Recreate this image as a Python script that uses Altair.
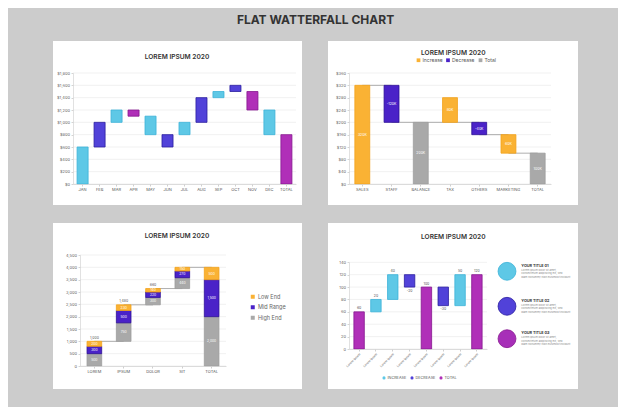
import altair as alt
import pandas as pd

FONT = "Inter"
BG = "#cccccc"
CYAN, CYAN_D = "#5ec8e6", "#3cb3d8"
INDIGO, INDIGO_D = "#5142d9", "#2b1ea0"
MAGENTA, MAGENTA_D = "#b02fb8", "#86168f"
ORANGE, ORANGE_D = "#fab234", "#f3a21b"
GRAY, GRAY_D = "#a9a9a9", "#9d9d9d"
PURPLE, PURPLE_D = "#4a22c8", "#2c0f96"

# ---------------- data ----------------
p1_cats = ["JAN", "FEB", "MAR", "APR", "MAY", "JUN", "JUL", "AUG", "SEP", "OCT", "NOV", "DEC", "TOTAL"]
p1_low = [0, 600, 1000, 1100, 800, 600, 800, 1000, 1400, 1500, 1200, 800, 0]
p1_high = [600, 1000, 1200, 1200, 1100, 800, 1000, 1400, 1500, 1600, 1500, 1200, 800]
p1_kind = ["Increase", "Decrease", "Increase", "Total", "Increase", "Decrease", "Increase",
           "Decrease", "Increase", "Decrease", "Total", "Increase", "Total"]
p1_ticks = [0, 200, 400, 600, 800, 1000, 1200, 1400, 1600, 1800]

p2_cats = ["SALES", "STAFF", "BALANCE", "TAX", "OTHERS", "MARKETING", "TOTAL"]
p2_low = [0, 200, 0, 200, 160, 100, 0]
p2_high = [320, 320, 200, 280, 200, 160, 100]
p2_kind = ["Increase", "Decrease", "Total", "Increase", "Decrease", "Increase", "Total"]
p2_labels = ["320K", "-120K", "200K", "80K", "-40K", "60K", "100K"]
p2_ticks = [0, 40, 80, 120, 160, 200, 240, 280, 320, 360]
p2_from = ["SALES", "STAFF", "BALANCE", "TAX", "OTHERS", "MARKETING"]
p2_to = ["STAFF", "BALANCE", "TAX", "OTHERS", "MARKETING", "TOTAL"]
p2_level = [320, 200, 200, 200, 160, 100]

p3_cats = ["LOREM", "IPSUM", "DOLOR", "SIT", "TOTAL"]
p3_base = [0, 1000, 2480, 3140, 0]
p3_high_end = [500, 750, 300, 440, 2000]
p3_mid_range = [300, 500, 220, 270, 1500]
p3_low_end = [200, 230, 140, 150, 500]
p3_top_labels = ["1,000", "1,480", "660", "", ""]
p3_ticks = [0, 500, 1000, 1500, 2000, 2500, 3000, 3500, 4000, 4500]
p3_from = ["LOREM", "IPSUM", "DOLOR", "SIT"]
p3_to = ["IPSUM", "DOLOR", "SIT", "TOTAL"]
p3_level = [1000, 2480, 3140, 4000]

p4_cats = ["c1", "c2", "c3", "c4", "c5", "c6", "c7", "c8"]
p4_low = [0, 60, 80, 100, 0, 70, 70, 0]
p4_high = [60, 80, 120, 120, 100, 100, 120, 120]
p4_kind = ["Total", "Increase", "Increase", "Decrease", "Total", "Decrease", "Increase", "Total"]
p4_labels = ["60", "20", "40", "-20", "100", "-30", "50", "120"]
p4_ticks = [0, 20, 40, 60, 80, 100, 120, 140]
p4_items = ["YOUR TITLE 01", "YOUR TITLE 02", "YOUR TITLE 03"]
p4_body = "Lorem ipsum dolor sit amet,\nconsectetuer adipiscing elit, sed\ndiam nonummy nibh euismod tincidunt"

one = pd.DataFrame({"k": [0]})


def card(W, H, L, T, R, B):
    return alt.Chart(one).mark_rect(color="white").encode(
        x=alt.value(-L), x2=alt.value(W + R), y=alt.value(-T), y2=alt.value(H + B))


def ptitle(x, y):
    return alt.Chart(one).mark_text(text="LOREM IPSUM 2020", font=FONT, fontSize=6.6,
                                    fontWeight=600, color="#333333", align="center",
                                    baseline="middle").encode(x=alt.value(x), y=alt.value(y))


def yaxis(fmt, ticks, offset=0):
    return alt.Axis(values=ticks, format=fmt, title=None, grid=False, domainColor="#d4d4d4",
                    domainWidth=0.7, tickColor="#d4d4d4", tickSize=2, labelFontSize=4,
                    labelColor="#666666", labelPadding=1.5, zindex=1, labelFont=FONT, offset=offset)


def xaxis(angle=0, expr=None, size=4):
    kw = dict(title=None, grid=False, domainColor="#cfcfcf", domainWidth=0.7, tickColor="#cfcfcf",
              tickSize=2, labelFontSize=size, labelColor="#555555", labelPadding=1.5,
              labelAngle=angle, zindex=1, labelFont=FONT)
    if expr:
        kw["labelExpr"] = expr
    return alt.Axis(**kw)


def grid(ticks, Y, x0=None, x1=None):
    enc = dict(y=alt.Y("v:Q", scale=Y[0], axis=Y[1]))
    if x0 is not None:
        enc["x"] = alt.value(x0)
        enc["x2"] = alt.value(x1)
    return alt.Chart(pd.DataFrame({"v": ticks})).mark_rule(color="#e8e8e8", strokeWidth=0.6).encode(**enc)


# ---------------- panel 1 ----------------
W1, H1 = 223, 111
d1 = pd.DataFrame({"cat": p1_cats, "lo": p1_low, "hi": p1_high, "k1": p1_kind})
xs1 = alt.Scale(domain=p1_cats, paddingInner=0.35, paddingOuter=0.24)
ys1 = alt.Scale(domain=[0, 1800], nice=False)
Y1 = (ys1, yaxis("$,d", p1_ticks))
bars1 = alt.Chart(d1).mark_bar(strokeWidth=0.8).encode(
    x=alt.X("cat:N", scale=xs1, axis=xaxis()),
    y=alt.Y("lo:Q", scale=ys1, axis=Y1[1]), y2="hi:Q",
    color=alt.Color("k1:N", scale=alt.Scale(domain=["Increase", "Decrease", "Total"],
                                            range=[CYAN, INDIGO, MAGENTA]), legend=None),
    stroke=alt.Stroke("k1:N", scale=alt.Scale(domain=["Increase", "Decrease", "Total"],
                                              range=[CYAN_D, INDIGO_D, MAGENTA_D]), legend=None))
p1 = alt.layer(card(W1, H1, 20, 32, 6, 21), ptitle(104, -16.4), grid(p1_ticks, Y1), bars1).properties(
    width=W1, height=H1)

# ---------------- panel 2 ----------------
W2, H2 = 202, 111
d2 = pd.DataFrame({"cat": p2_cats, "lo": p2_low, "hi": p2_high, "k2": p2_kind, "lab": p2_labels})
d2["mid"] = (d2["lo"] + d2["hi"]) / 2
c2 = pd.DataFrame({"f": p2_from, "t": p2_to, "lev": p2_level})
xs2 = alt.Scale(domain=p2_cats, paddingInner=0.49, paddingOuter=0.2)
ys2 = alt.Scale(domain=[0, 360], nice=False)
Y2 = (ys2, yaxis("$d", p2_ticks))
X2ax = xaxis()
conn2 = alt.Chart(c2).mark_rule(color="#9a9a9a", strokeWidth=0.8).encode(
    x=alt.X("f:N", scale=xs2, axis=X2ax), x2="t:N", y=alt.Y("lev:Q", scale=ys2, axis=Y2[1]))
bars2 = alt.Chart(d2).mark_bar(strokeWidth=0.8).encode(
    x=alt.X("cat:N", scale=xs2, axis=X2ax),
    y=alt.Y("lo:Q", scale=ys2, axis=Y2[1]), y2="hi:Q",
    color=alt.Color("k2:N", scale=alt.Scale(domain=["Increase", "Decrease", "Total"],
                                            range=[ORANGE, PURPLE, GRAY]),
                    legend=alt.Legend(orient="none", legendX=67, legendY=-15.5, direction="horizontal",
                                      title=None, symbolType="square", symbolSize=14,
                                      symbolStrokeWidth=0, labelFontSize=5, labelFont=FONT,
                                      labelColor="#555555", columnPadding=2.5, labelOffset=1.5)),
    stroke=alt.Stroke("k2:N", scale=alt.Scale(domain=["Increase", "Decrease", "Total"],
                                              range=[ORANGE_D, PURPLE_D, GRAY_D]), legend=None))
lab2 = alt.Chart(d2).mark_text(font=FONT, fontSize=3.5, color="white", baseline="middle").encode(
    x=alt.X("cat:N", scale=xs2, axis=X2ax), y=alt.Y("mid:Q", scale=ys2, axis=Y2[1]), text="lab:N")
p2 = alt.layer(card(W2, H2, 21, 32, 27, 21), ptitle(104.3, -19.7), grid(p2_ticks, Y2),
               conn2, bars2, lab2).properties(width=W2, height=H2)

# ---------------- panel 3 ----------------
W3, H3, S3 = 153, 111, 7
rows = []
tops = []
for i, c in enumerate(p3_cats):
    b = p3_base[i]
    for seg, vals in [("High End", p3_high_end), ("Mid Range", p3_mid_range), ("Low End", p3_low_end)]:
        rows.append({"cat": c, "k3": seg, "lo": b, "hi": b + vals[i], "mid": b + vals[i] / 2,
                     "lab": f"{vals[i]:,}"})
        b += vals[i]
    tops.append({"cat": c, "top": b, "lab": p3_top_labels[i]})
d3 = pd.DataFrame(rows)
t3 = pd.DataFrame(tops)
c3 = pd.DataFrame({"f": p3_from, "t": p3_to, "lev": p3_level})
xs3 = alt.Scale(domain=p3_cats, paddingInner=0.5, paddingOuter=0.24, range=[S3, W3])
ys3 = alt.Scale(domain=[0, 4500], nice=False)
Y3 = (ys3, yaxis(",d", p3_ticks, offset=-S3))
X3ax = xaxis()
conn3 = alt.Chart(c3).mark_rule(color="#9a9a9a", strokeWidth=0.8).encode(
    x=alt.X("f:N", scale=xs3, axis=X3ax), x2="t:N", y=alt.Y("lev:Q", scale=ys3, axis=Y3[1]))
bars3 = alt.Chart(d3).mark_bar(strokeWidth=0.8).encode(
    x=alt.X("cat:N", scale=xs3, axis=X3ax),
    y=alt.Y("lo:Q", scale=ys3, axis=Y3[1]), y2="hi:Q",
    color=alt.Color("k3:N", scale=alt.Scale(domain=["Low End", "Mid Range", "High End"],
                                            range=[ORANGE, PURPLE, GRAY]),
                    legend=alt.Legend(orient="none", legendX=177, legendY=39, direction="vertical",
                                      title=None, symbolType="square", symbolSize=16,
                                      symbolStrokeWidth=0, labelFontSize=5.5, labelFont=FONT,
                                      labelColor="#666666", rowPadding=3.5, labelOffset=2.5)),
    stroke=alt.Stroke("k3:N", scale=alt.Scale(domain=["Low End", "Mid Range", "High End"],
                                              range=[ORANGE_D, PURPLE_D, GRAY_D]), legend=None))
lab3 = alt.Chart(d3).mark_text(font=FONT, fontSize=3.3, color="white", baseline="middle").encode(
    x=alt.X("cat:N", scale=xs3, axis=X3ax), y=alt.Y("mid:Q", scale=ys3, axis=Y3[1]), text="lab:N")
top3 = alt.Chart(t3).mark_text(font=FONT, fontSize=3.5, color="#555555", baseline="bottom", dy=-1.5).encode(
    x=alt.X("cat:N", scale=xs3, axis=X3ax), y=alt.Y("top:Q", scale=ys3, axis=Y3[1]), text="lab:N")
p3 = alt.layer(card(W3, H3, 20, 32, 76, 23), ptitle(104, -19.4), grid(p3_ticks, Y3, S3, W3),
               conn3, bars3, lab3, top3).properties(width=W3, height=H3)

# ---------------- panel 4 ----------------
W4, H4, S4 = 138, 94, 7.3
d4 = pd.DataFrame({"cat": p4_cats, "lo": p4_low, "hi": p4_high, "k4": p4_kind, "lab": p4_labels})
xs4 = alt.Scale(domain=p4_cats, paddingInner=0.38, paddingOuter=0.29)
ys4 = alt.Scale(domain=[0, 140], nice=False, range=[H4, S4])
Y4 = (ys4, yaxis("d", p4_ticks))
X4ax = xaxis(angle=-45, expr="'Lorem ipsum'", size=3)
bars4 = alt.Chart(d4).mark_bar(strokeWidth=0.8).encode(
    x=alt.X("cat:N", scale=xs4, axis=X4ax),
    y=alt.Y("lo:Q", scale=ys4, axis=Y4[1]), y2="hi:Q",
    color=alt.Color("k4:N", scale=alt.Scale(domain=["Increase", "Decrease", "Total"],
                                            range=[CYAN, INDIGO, MAGENTA]),
                    legend=alt.Legend(orient="none", legendX=33, legendY=113.5 + S4, direction="horizontal",
                                      title=None, symbolType="circle", symbolSize=10,
                                      symbolStrokeWidth=0, labelFontSize=3.8, labelFont=FONT,
                                      labelColor="#555555", columnPadding=3, labelOffset=1.5,
                                      labelExpr="upper(datum.label)")),
    stroke=alt.Stroke("k4:N", scale=alt.Scale(domain=["Increase", "Decrease", "Total"],
                                              range=[CYAN_D, INDIGO_D, MAGENTA_D]), legend=None))
lab4_up = alt.Chart(d4).transform_filter("datum.k4 != 'Decrease'").mark_text(
    font=FONT, fontSize=3.5, color="#555555", baseline="bottom", dy=-1.5).encode(
    x=alt.X("cat:N", scale=xs4, axis=X4ax), y=alt.Y("hi:Q", scale=ys4, axis=Y4[1]), text="lab:N")
lab4_dn = alt.Chart(d4).transform_filter("datum.k4 == 'Decrease'").mark_text(
    font=FONT, fontSize=3.5, color="#555555", baseline="top", dy=1.5).encode(
    x=alt.X("cat:N", scale=xs4, axis=X4ax), y=alt.Y("lo:Q", scale=ys4, axis=Y4[1]), text="lab:N")

side = []
circ_fill = [CYAN, INDIGO, "#a72fb8"]
circ_stroke = [CYAN_D, INDIGO_D, MAGENTA_D]
circ_y = [9 + S4, 44 + S4, 76.4 + S4]
for i, name in enumerate(p4_items):
    side.append(alt.Chart(one).mark_circle(size=320, opacity=1, color=circ_fill[i], stroke=circ_stroke[i],
                                           strokeWidth=0.8).encode(x=alt.value(158), y=alt.value(circ_y[i])))
    side.append(alt.Chart(one).mark_text(text=name, font=FONT, fontSize=3.8, fontWeight="bold",
                                         color="#333333", align="left", baseline="middle").encode(
        x=alt.value(172.3), y=alt.value(circ_y[i] - 5.8)))
    side.append(alt.Chart(one).mark_text(text=p4_body.split("\n"), font=FONT, fontSize=2.7,
                                         color="#8a8a8a", align="left", baseline="top",
                                         lineHeight=3.5).encode(
        x=alt.value(172.3), y=alt.value(circ_y[i] - 2.6)))

p4 = alt.layer(card(W4, H4, 21, 32, 91, 40), ptitle(104.3, -25 + S4), grid(p4_ticks, Y4),
               bars4, lab4_up, lab4_dn, *side).properties(width=W4, height=H4)

res = dict(x="independent", y="independent", color="independent", stroke="independent")
chart = alt.concat(p1, p2, p3, p4, columns=2, spacing=alt.RowColnumber(row=18, column=26)
                   if hasattr(alt, "RowColnumber") else {"row": 18, "column": 26}).resolve_scale(
    **res).resolve_legend(color="independent").properties(
    title=alt.TitleParams("FLAT WATTERFALL CHART", fontSize=12, font=FONT, fontWeight="bold",
                          color="#333333", anchor="middle", offset=14),
    background=BG,
    padding={"left": 45, "top": 6, "right": 40, "bottom": 18},
).configure_view(stroke=None)

chart.save("out.html", embed_options={"renderer": "svg", "actions": False})
